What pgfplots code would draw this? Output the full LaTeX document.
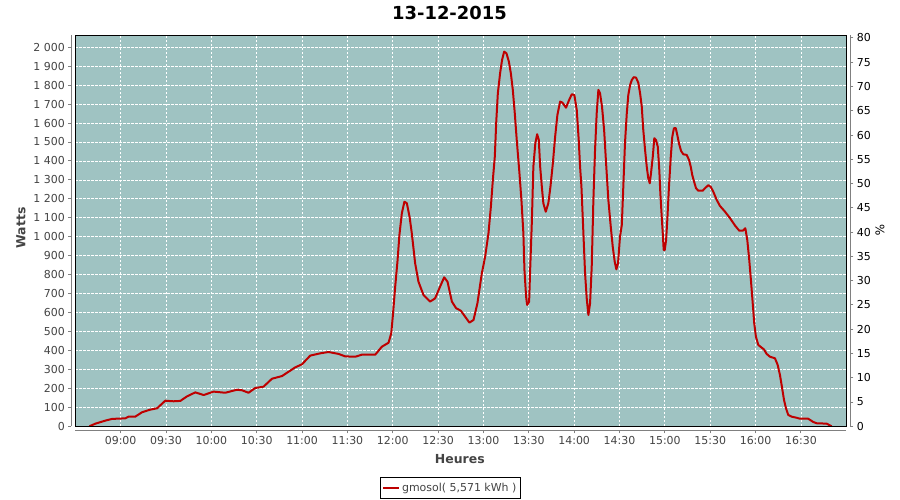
\documentclass[border=0pt]{standalone}
\usepackage{pgfplots}
\pgfplotsset{compat=1.18}
\usepackage{pgfplotstable}
\usepackage{fontspec}
\setmainfont{DejaVu Sans}

\definecolor{plotbg}{RGB}{159,195,194}
\definecolor{serie}{RGB}{190,0,0}
\definecolor{ticktext}{RGB}{68,68,68}

% production (minutes since 00:00, watts)
\pgfplotstableread{
m W
519.3 0
523.3 14
529.9 30
534.3 39
543.1 42
545.3 51
549.7 51
554.1 74
559.6 88
564.1 95
569.5 135
575.0 132
579.5 134
583.9 158
589.4 179
594.9 165
601.5 183
609.2 177
617.0 193
620.3 190
624.6 177
629.0 202
634.5 209
640.1 251
646.7 265
655.5 311
659.9 327
665.4 373
672.0 385
677.5 392
684.1 382
688.5 369
695.2 367
699.6 378
708.4 378
712.8 420
717.2 441
719.0 491
720.1 587
721.6 737
723.1 869
724.4 1010
726.0 1124
727.7 1185
729.3 1177
731.1 1106
732.6 1018
734.8 860
737.0 763
740.3 693
744.7 658
748.0 675
751.3 737
754.0 786
756.2 763
759.1 658
761.9 623
765.0 610
767.9 578
770.7 547
773.4 561
776.0 649
778.9 807
781.1 895
783.3 1018
784.9 1159
786.2 1300
787.5 1423
788.4 1599
789.5 1757
791.0 1863
792.3 1933
793.7 1977
795.2 1968
796.8 1924
798.1 1863
799.4 1775
800.7 1652
802.0 1511
803.8 1335
805.1 1194
806.4 1018
807.1 825
808.2 684
808.9 640
810.2 658
810.8 807
812.0 1080
813.0 1370
814.3 1493
815.5 1541
816.6 1511
817.5 1370
818.6 1264
819.6 1177
821.2 1132
822.9 1177
824.3 1264
825.9 1388
827.4 1528
828.9 1643
830.7 1713
832.2 1708
834.6 1681
836.4 1717
838.4 1752
840.1 1748
841.7 1669
843.0 1511
843.9 1370
844.8 1264
846.1 1018
847.2 807
848.3 675
849.4 587
850.5 649
851.6 842
852.7 1194
853.8 1458
854.9 1652
856.0 1775
857.1 1757
858.4 1687
859.8 1564
861.1 1388
862.6 1194
864.2 1053
865.5 948
866.8 869
867.9 828
869.0 860
870.3 1000
871.5 1062
872.5 1264
873.6 1493
874.8 1652
875.8 1748
877.0 1801
878.1 1827
879.4 1842
880.9 1840
882.4 1813
883.6 1757
884.7 1687
885.7 1564
886.9 1458
888.0 1370
889.0 1309
890.0 1282
890.8 1335
892.0 1423
893.0 1520
894.1 1511
895.3 1475
896.3 1352
897.0 1229
897.9 1106
898.6 1018
899.2 930
899.9 930
900.8 983
901.6 1089
902.7 1264
903.9 1423
904.9 1528
906.0 1573
907.2 1573
908.2 1537
909.3 1493
910.7 1453
912.2 1435
914.4 1432
916.0 1405
917.1 1370
918.1 1326
919.3 1291
920.6 1256
922.1 1243
925.0 1243
926.5 1256
928.7 1272
930.3 1264
932.0 1238
934.3 1194
936.4 1163
939.8 1132
943.1 1098
946.4 1059
949.2 1032
951.5 1032
953.2 1045
954.5 983
955.8 878
956.9 772
958.1 649
959.1 544
960.2 473
961.8 429
963.7 417
965.5 406
967.3 382
969.5 367
972.8 359
974.6 324
976.1 271
977.4 209
978.8 139
980.1 95
981.6 60
983.8 51
987.2 45
989.3 40
994.8 40
998.1 23
1000.4 16
1007.0 14
1010.3 0
}\prod

\pgfplotsset{
  common/.style={
    scale only axis,
    width=771bp, height=391bp,
    at={(75.3bp,73.7bp)}, anchor=south west,
    xmin=510, xmax=1020,
    tick align=outside,
    major tick length=3bp,
    tick style={color=gray, line width=1bp},
    axis line style={color=gray, line width=1bp},
    ticklabel style={font=\fontsize{11}{13}\selectfont},
    /pgf/number format/assume math mode=true,
  },
}

\begin{document}
\begin{tikzpicture}
\fill[white] (0,0) rectangle (900bp,500bp);

\begin{axis}[
  common,
  name=main,
  ymin=0, ymax=2063,
  axis x line*=bottom, axis y line*=left,
  axis x line shift=4bp, axis y line shift=4bp,
  axis background/.style={fill=plotbg},
  xtick={540,570,...,990},
  xticklabels={09:00,09:30,10:00,10:30,11:00,11:30,12:00,12:30,13:00,13:30,14:00,14:30,15:00,15:30,16:00,16:30},
  ytick={0,100,...,2000},
  yticklabel style={/pgf/number format/1000 sep={\ }},
  ticklabel style={text=ticktext},
  grid=major,
  major grid style={white, line width=0.8bp, dash pattern=on 2.5bp off 1.5bp},
  title={13-12-2015},
  every axis title/.style={at={(axis description cs:0.4853,1.057)}, anchor=center,
    font=\bfseries\fontsize{18}{20}\selectfont},
  xlabel={Heures},
  xlabel style={at={(axis description cs:0.4987,-0.0844)}, anchor=center,
    font=\bfseries\fontsize{12.5}{14}\selectfont, text=ticktext},
  ylabel={Watts},
  ylabel style={at={(axis description cs:-0.0704,0.507)}, anchor=center,
    font=\bfseries\fontsize{12.5}{14}\selectfont, text=ticktext},
  legend style={at={(axis description cs:0.4863,-0.1573)}, anchor=center,
    draw=black, line width=0.8bp, fill=white,
    font=\fontsize{11}{13}\selectfont, text=ticktext,
    inner xsep=2bp, inner ysep=3.5bp},
  legend image code/.code={\draw[#1, line width=2bp] (0bp,0bp) -- (16bp,0bp);},
]
\addplot[serie, line width=2bp, line join=round] table[x=m, y=W] {\prod};
\addlegendentry{gmosol( 5,571 kWh )}
\end{axis}

\begin{axis}[
  common,
  ymin=0, ymax=80.55,
  axis x line=none, axis y line*=right,
  axis y line shift=4bp,
  ytick={0,5,...,80},
  ticklabel style={text=black},
  ylabel={\%},
  ylabel style={at={(axis description cs:1.0437,0.502)}, anchor=center, rotate=180,
    font=\fontsize{12}{14}\selectfont},
]
\end{axis}

\draw[black, line width=1bp] (main.south west) rectangle (main.north east);

\pgfresetboundingbox
\path (0,0) rectangle (900bp,500bp);
\end{tikzpicture}
\end{document}
